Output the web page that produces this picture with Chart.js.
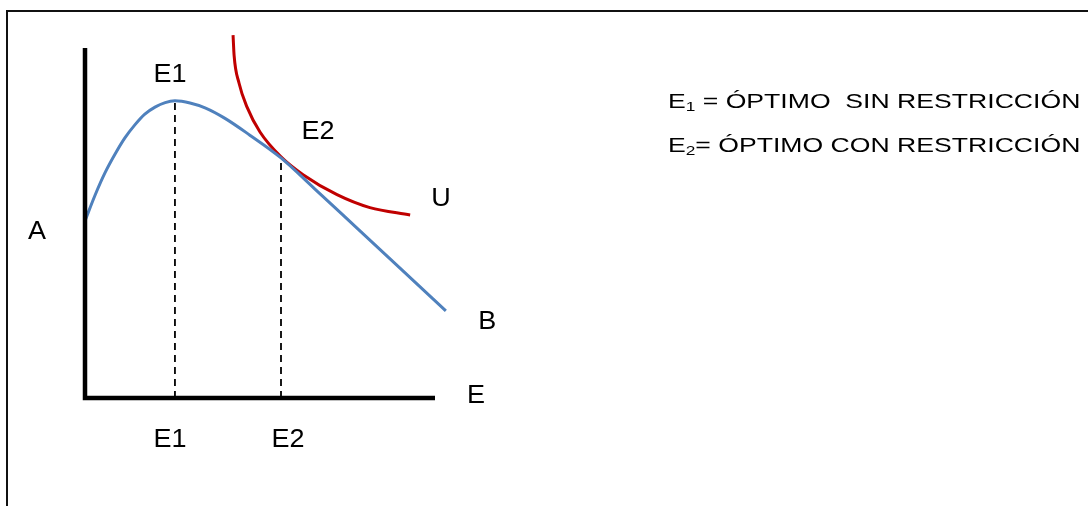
<!DOCTYPE html>
<html>
<head>
<meta charset="utf-8">
<script src="https://cdn.jsdelivr.net/npm/chart.js@4.4.1/dist/chart.umd.min.js"></script>
<style>
  body { margin: 0; background: #fff; }
  #wrap { position: relative; width: 1088px; height: 506px; overflow: hidden; }
  #frame {
    position: absolute; left: 6px; top: 10px; right: -4px; bottom: -4px;
    border-left: 2px solid #111; border-top: 2px solid #111;
  }
  canvas { position: absolute; left: 0; top: 0; }
</style>
</head>
<body>
<div id="wrap">
  <div id="frame"></div>
  <canvas id="optChart" width="1088" height="506"></canvas>
</div>
<script>
// curve B
const bX = [0, 0.29, 0.57, 0.86, 1.14, 1.43, 1.71, 2.0, 2.29, 2.57, 3.0, 3.43, 4.0, 4.71, 5.6, 6.57, 7.71, 9.0, 10.31];
const bY = [5.06, 5.80, 6.43, 6.97, 7.43, 7.81, 8.11, 8.31, 8.44, 8.49, 8.43, 8.29, 7.99, 7.51, 6.86, 5.97, 4.91, 3.71, 2.49];

// indifference curve U
const uX = [4.23, 4.26, 4.4, 4.63, 5.0, 5.6, 6.23, 7.2, 8.14, 9.29];
const uY = [10.37, 9.79, 9.0, 8.31, 7.6, 6.89, 6.38, 5.81, 5.44, 5.23];

// optimum points E1, E2
const optE = [2.57, 5.6];
const optA = [8.49, 6.86];

// axes length
const axisMax = 10;

const toPts = (xs, ys) => xs.map((x, i) => ({ x: x, y: ys[i] }));

// text labels (data units)
const labels = [
  { t: 'E1', x: 2.43, y: 9.23 },
  { t: 'E2', x: 6.66, y: 7.6 },
  { t: 'U', x: 10.17, y: 5.69 },
  { t: 'A', x: -1.37, y: 4.74 },
  { t: 'B', x: 11.49, y: 2.17 },
  { t: 'E', x: 11.17, y: 0.06 },
  { t: 'E1', x: 2.43, y: -1.2 },
  { t: 'E2', x: 5.8, y: -1.2 }
];

const FONT = '"Liberation Sans", Arial, sans-serif';

// the original picture is a bit stretched sideways
function stretchText(ctx, t, x, y, sx) {
  ctx.save();
  ctx.translate(x, y);
  ctx.scale(sx, 1);
  ctx.fillText(t, 0, 0);
  ctx.restore();
  return ctx.measureText(t).width * sx;
}

const textPlugin = {
  id: 'textPlugin',
  afterDatasetsDraw(chart) {
    const { ctx, scales } = chart;
    ctx.save();
    ctx.fillStyle = '#000';
    ctx.font = '25px ' + FONT;
    ctx.textAlign = 'center';
    ctx.textBaseline = 'middle';
    labels.forEach(l => {
      stretchText(ctx, l.t, scales.x.getPixelForValue(l.x), scales.y.getPixelForValue(l.y), 1.08);
    });

    // notes on the right
    const notes = [
      { sub: '1', rest: ' = ÓPTIMO  SIN RESTRICCIÓN', y: 108 },
      { sub: '2', rest: '= ÓPTIMO CON RESTRICCIÓN', y: 152 }
    ];
    const sx = 1.33;
    ctx.textAlign = 'left';
    ctx.textBaseline = 'alphabetic';
    notes.forEach(n => {
      let x = 668;
      ctx.font = '20px ' + FONT;
      x += stretchText(ctx, 'E', x, n.y, sx);
      ctx.font = '13px ' + FONT;
      x += stretchText(ctx, n.sub, x, n.y + 3, sx);
      ctx.font = '20px ' + FONT;
      stretchText(ctx, n.rest, x, n.y, sx);
    });
    ctx.restore();
  }
};

const dashed = optE.map((e, i) => ({
  data: [{ x: e, y: 0 }, { x: e, y: optA[i] }],
  borderColor: '#000',
  borderWidth: 1.8,
  borderDash: [7, 5],
  pointRadius: 0,
  showLine: true,
  clip: false
}));

const ctx = document.getElementById('optChart').getContext('2d');
const optChart = new Chart(ctx, {
  type: 'scatter',
  data: {
    datasets: [
      ...dashed,
      {
        // axes
        data: [{ x: 0, y: axisMax }, { x: 0, y: 0 }, { x: axisMax, y: 0 }],
        borderColor: '#000',
        borderWidth: 4.5,
        borderJoinStyle: 'miter',
        borderCapStyle: 'butt',
        pointRadius: 0,
        showLine: true,
        clip: false
      },
      {
        label: 'B',
        data: toPts(bX, bY),
        borderColor: '#4F81BD',
        borderWidth: 3,
        cubicInterpolationMode: 'monotone',
        pointRadius: 0,
        showLine: true,
        clip: false
      },
      {
        label: 'U',
        data: toPts(uX, uY),
        borderColor: '#C00000',
        borderWidth: 3,
        cubicInterpolationMode: 'monotone',
        pointRadius: 0,
        showLine: true,
        clip: false
      }
    ]
  },
  options: {
    responsive: false,
    animation: false,
    layout: { padding: { left: 85, top: 48, right: 653, bottom: 108 } },
    plugins: { legend: { display: false }, tooltip: { enabled: false } },
    scales: {
      x: { type: 'linear', min: 0, max: axisMax, display: false },
      y: { type: 'linear', min: 0, max: axisMax, display: false }
    }
  },
  plugins: [textPlugin]
});
</script>
</body>
</html>
